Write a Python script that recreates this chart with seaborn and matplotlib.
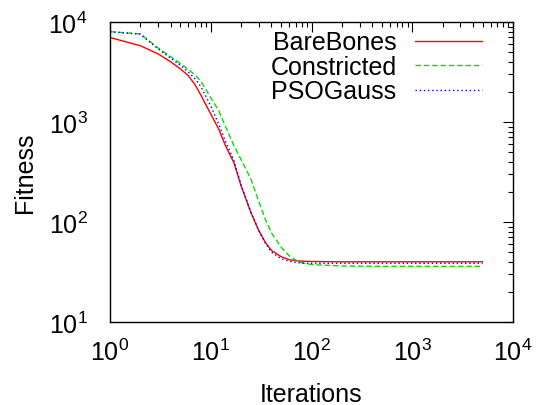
import pandas as pd
import numpy as np
import matplotlib
matplotlib.use('Agg')
import matplotlib.pyplot as plt
import seaborn as sns

# Données
iterations = [1, 2, 3, 4, 5, 6, 7, 8, 10, 12, 14, 17, 20, 25, 30, 35, 40, 50, 60, 70, 80, 100, 200, 500, 1000, 2000, 5000]
barebones = [7000, 5800, 4800, 4000, 3400, 2900, 2350, 1850, 1200, 850, 580, 390, 230, 125, 82, 62, 52, 45, 42, 41, 40.6, 40.3, 40, 40, 40, 40, 40]
constricted = [8000, 7600, 5500, 4500, 3850, 3350, 2950, 2550, 1750, 1300, 900, 580, 420, 270, 160, 105, 78, 56, 46, 41.5, 39, 37.5, 36.3, 36, 36, 36, 36]
psogauss = [8000, 7550, 5400, 4350, 3700, 3150, 2700, 2250, 1450, 950, 640, 410, 235, 125, 82, 61, 50, 43, 40.5, 39.3, 38.9, 38.7, 38.6, 38.6, 38.6, 38.6, 38.6]
series_names = ['BareBones', 'Constricted', 'PSOGauss']

df = pd.DataFrame({
    'Iterations': iterations * 3,
    'Fitness': barebones + constricted + psogauss,
    'Algo': [n for n in series_names for _ in iterations],
})

sns.set_style('white')
plt.rcParams['font.family'] = ['Liberation Sans', 'DejaVu Sans']
plt.rcParams['mathtext.fontset'] = 'custom'
plt.rcParams['mathtext.rm'] = 'Liberation Sans'
plt.rcParams['mathtext.it'] = 'Liberation Sans'
plt.rcParams['mathtext.bf'] = 'Liberation Sans'
plt.rcParams['font.size'] = 18
plt.rcParams['text.color'] = 'black'
plt.rcParams['axes.labelcolor'] = 'black'
plt.rcParams['xtick.color'] = 'black'
plt.rcParams['ytick.color'] = 'black'

fig = plt.figure(figsize=(5.42, 4.06), dpi=100)
ax = fig.add_axes([110/542, 1 - 323/406, 403/542, 300/406])

palette = {'BareBones': '#ff0000', 'Constricted': '#00e000', 'PSOGauss': '#0000ff'}
dashes = {'BareBones': '', 'Constricted': (4, 2), 'PSOGauss': (1, 2)}
sns.lineplot(data=df, x='Iterations', y='Fitness', hue='Algo', style='Algo',
             palette=palette, dashes=dashes, estimator=None, linewidth=1.0, ax=ax)

ax.set_xscale('log')
ax.set_yscale('log')
ax.set_xlim(1, 1e4)
ax.set_ylim(10, 1e4)
ax.set_xlabel('Iterations', labelpad=12)
ax.set_ylabel('Fitness', labelpad=8)

for s in ax.spines.values():
    s.set_color('black')
    s.set_linewidth(1.0)
ax.tick_params(which='both', direction='in', top=True, right=True, colors='black')
ax.tick_params(which='major', length=7, width=0.8)
ax.tick_params(which='minor', length=3.5, width=0.8)
ax.tick_params(axis='x', which='major', pad=12)
ax.tick_params(axis='y', which='major', pad=16)

leg = ax.legend(loc='upper right', bbox_to_anchor=(372/403, 0.972), frameon=False,
                markerfirst=False, handlelength=2.7, handletextpad=0.72,
                labelspacing=0.02, borderpad=0, borderaxespad=0, fontsize=18)

fig.savefig('out.png', dpi=100)
